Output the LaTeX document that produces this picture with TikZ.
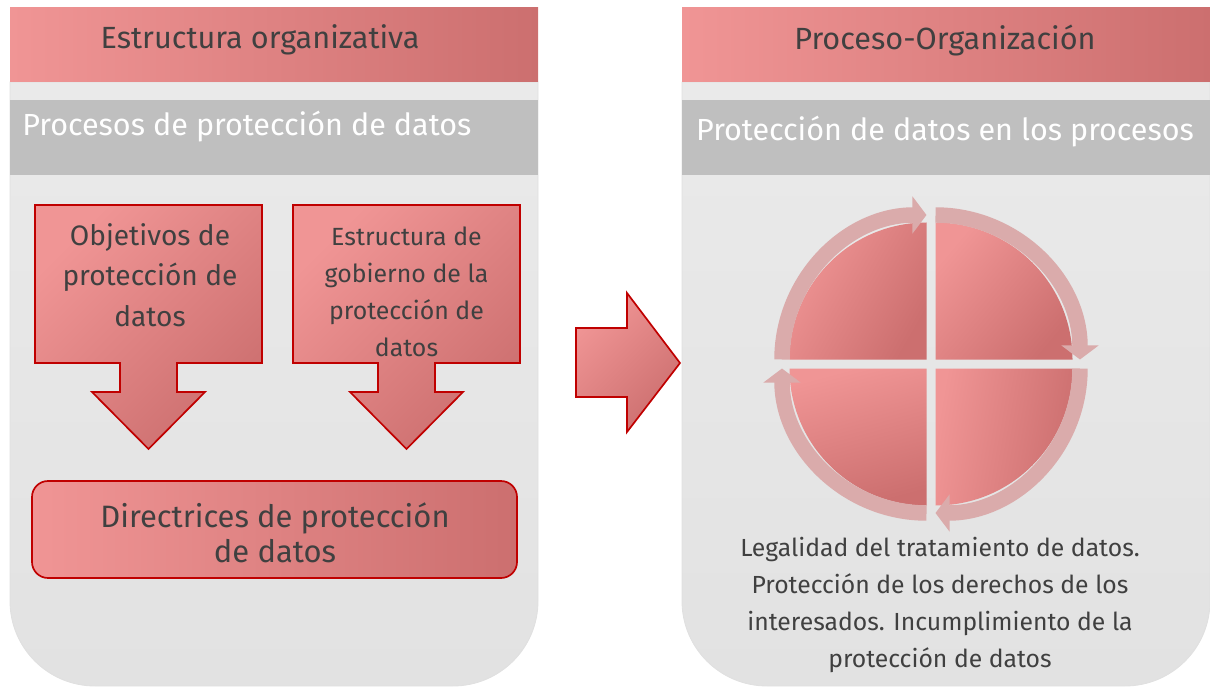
\documentclass[tikz,border=0pt]{standalone}
\usepackage{fontspec}
\setmainfont{Fira Sans}
\usetikzlibrary{arrows.meta}

\definecolor{pinklight}{HTML}{F09595}
\definecolor{pinkdark}{HTML}{CC6F6F}
\definecolor{darkred}{HTML}{C00000}
\definecolor{paneltop}{HTML}{EAEAEA}
\definecolor{panelbot}{HTML}{E2E2E2}
\definecolor{bandgray}{HTML}{BFBFBF}
\definecolor{textgray}{HTML}{404040}
\definecolor{ringpink}{HTML}{DAABAB}

\begin{document}
\begin{tikzpicture}[x=0.025cm, y=0.025cm,
	panel/.style={top color=paneltop, bottom color=panelbot, draw=black!12, line width=0.6pt},
	header/.style={left color=pinklight, right color=pinkdark},
	band/.style={fill=bandgray},
	callout/.style={draw=darkred, line width=1.2pt, top color=pinklight, bottom color=pinkdark, shading angle=45},
	quarter/.style={top color=pinklight, bottom color=pinkdark},
	ring/.style={draw=ringpink, line width=11pt, -{Triangle[length=10pt, width=26pt]}},
	title/.style={text=textgray, inner sep=0pt, font=\fontsize{21.8}{26}\selectfont},
	bandtext/.style={text=white, inner sep=0pt, font=\fontsize{21.7}{26}\selectfont},
	boxtext/.style={text=textgray, align=center, inner sep=0pt}]
	\useasboundingbox (0,0) rectangle (1210,686);

	% panels
	\foreach \px in {10,682} {
		\path[panel] (\px,604) -- (\px,85) arc[start angle=180, end angle=270, radius=85] -- (\px+443,0) arc[start angle=270, end angle=360, radius=85] -- (\px+528,604) -- cycle;
		\path[header] (\px,604) rectangle (\px+528,678);
		\path[band] (\px,511) rectangle (\px+528,586);
	}

	% down arrows
	\foreach \dx in {0,258} {
		\path[callout] (35+\dx,481) -- (262+\dx,481) -- (262+\dx,323) -- (177+\dx,323) -- (177+\dx,294) -- (205+\dx,294) -- (148.5+\dx,237) -- (92+\dx,294) -- (120+\dx,294) -- (120+\dx,323) -- (35+\dx,323) -- cycle;
	}

	% guidelines box
	\path[callout, rounded corners=0.4cm, left color=pinklight, right color=pinkdark] (32,108) rectangle (517,205);

	% right arrow
	\path[callout] (576,358) -- (627,358) -- (627,393) -- (680,323) -- (627,254) -- (627,289) -- (576,289) -- cycle;

	% cycle
	\path[quarter, shading angle=60] (926.5,326.5) -- ++(90:137) arc[start angle=90, end angle=180, radius=137] -- cycle;
	\path[quarter, shading angle=50] (935.5,326.5) -- ++(0:137) arc[start angle=0, end angle=90, radius=137] -- cycle;
	\path[quarter, shading angle=80] (935.5,317.5) -- ++(270:137) arc[start angle=270, end angle=360, radius=137] -- cycle;
	\path[quarter, shading angle=15] (926.5,317.5) -- ++(180:137) arc[start angle=180, end angle=270, radius=137] -- cycle;
	\draw[ring] (926.5,326.5) ++(180:144.5) arc[start angle=180, end angle=90, radius=144.5];
	\draw[ring] (935.5,326.5) ++(90:144.5) arc[start angle=90, end angle=0, radius=144.5];
	\draw[ring] (935.5,317.5) ++(0:144.5) arc[start angle=0, end angle=-90, radius=144.5];
	\draw[ring] (926.5,317.5) ++(270:144.5) arc[start angle=270, end angle=180, radius=144.5];

	% texts
	\node[title] (orghead) at (260,646) {Estructura organizativa};
	\node[title] (prochead) at (945,646) {Proceso-Organización};
	\node[bandtext, anchor=west] (procband) at (22,559) {Procesos de protección de datos};
	\node[bandtext] (protband) at (945,554) {Protección de datos en los procesos};
	\node[boxtext, font=\fontsize{20}{29}\selectfont] (objetivos) at (150,411) {Objetivos de\\protección de\\datos};
	\node[boxtext, font=\fontsize{17.7}{26.3}\selectfont] (gobierno) at (406.5,394) {Estructura de\\gobierno de la\\protección de\\datos};
	\node[boxtext, font=\fontsize{22}{24.5}\selectfont] (directrices) at (275,153) {Directrices de protección\\de datos};
	\node[boxtext, font=\fontsize{17.6}{26.3}\selectfont] (legalidad) at (940,81) {Legalidad del tratamiento de datos.\\Protección de los derechos de los\\interesados. Incumplimiento de la\\protección de datos};
\end{tikzpicture}
\end{document}
